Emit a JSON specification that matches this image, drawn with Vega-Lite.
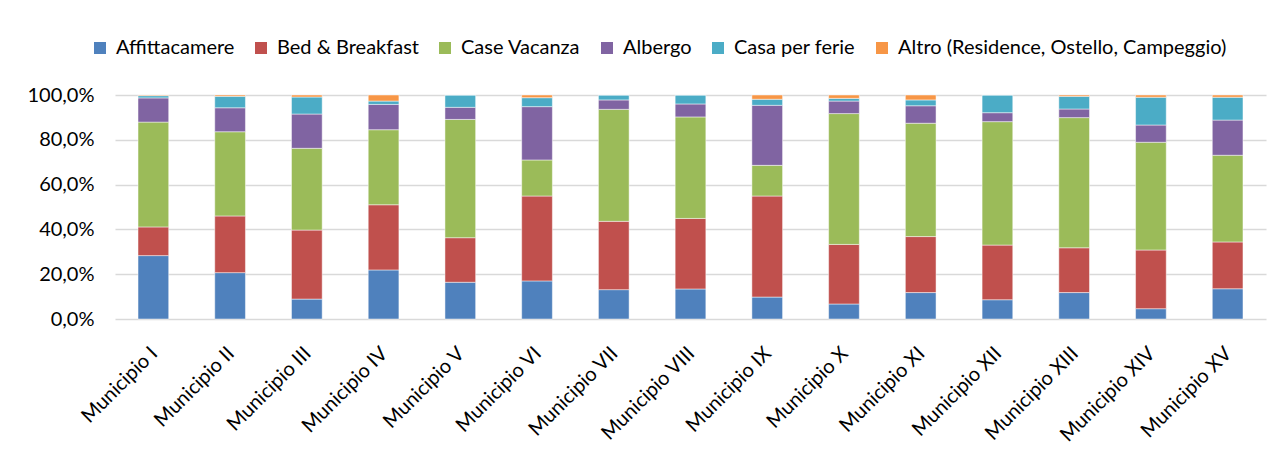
{
  "$schema": "https://vega.github.io/schema/vega-lite/v6.json",
  "width": 1151,
  "height": 224,
  "autosize": {"type": "none"},
  "padding": {"left": 115, "top": 95, "right": 19, "bottom": 133},
  "background": "white",
  "datasets": {
    "categorie": [
      {"t": "Affittacamere", "k": 1},
      {"t": "Bed & Breakfast", "k": 2},
      {"t": "Case Vacanza", "k": 3},
      {"t": "Albergo", "k": 4},
      {"t": "Casa per ferie", "k": 5},
      {"t": "Altro (Residence, Ostello, Campeggio)", "k": 6}
    ],
    "quote": [
      {"m": "Municipio I", "t": "Affittacamere", "v": 28.3},
      {"m": "Municipio I", "t": "Bed & Breakfast", "v": 12.8},
      {"m": "Municipio I", "t": "Case Vacanza", "v": 46.8},
      {"m": "Municipio I", "t": "Albergo", "v": 10.8},
      {"m": "Municipio I", "t": "Casa per ferie", "v": 1.0},
      {"m": "Municipio I", "t": "Altro (Residence, Ostello, Campeggio)", "v": 0.3},
      {"m": "Municipio II", "t": "Affittacamere", "v": 20.7},
      {"m": "Municipio II", "t": "Bed & Breakfast", "v": 25.3},
      {"m": "Municipio II", "t": "Case Vacanza", "v": 37.6},
      {"m": "Municipio II", "t": "Albergo", "v": 10.7},
      {"m": "Municipio II", "t": "Casa per ferie", "v": 5.1},
      {"m": "Municipio II", "t": "Altro (Residence, Ostello, Campeggio)", "v": 0.6},
      {"m": "Municipio III", "t": "Affittacamere", "v": 8.9},
      {"m": "Municipio III", "t": "Bed & Breakfast", "v": 30.8},
      {"m": "Municipio III", "t": "Case Vacanza", "v": 36.5},
      {"m": "Municipio III", "t": "Albergo", "v": 15.3},
      {"m": "Municipio III", "t": "Casa per ferie", "v": 7.6},
      {"m": "Municipio III", "t": "Altro (Residence, Ostello, Campeggio)", "v": 0.9},
      {"m": "Municipio IV", "t": "Affittacamere", "v": 21.9},
      {"m": "Municipio IV", "t": "Bed & Breakfast", "v": 29.1},
      {"m": "Municipio IV", "t": "Case Vacanza", "v": 33.5},
      {"m": "Municipio IV", "t": "Albergo", "v": 11.3},
      {"m": "Municipio IV", "t": "Casa per ferie", "v": 1.5},
      {"m": "Municipio IV", "t": "Altro (Residence, Ostello, Campeggio)", "v": 2.7},
      {"m": "Municipio V", "t": "Affittacamere", "v": 16.4},
      {"m": "Municipio V", "t": "Bed & Breakfast", "v": 19.9},
      {"m": "Municipio V", "t": "Case Vacanza", "v": 52.8},
      {"m": "Municipio V", "t": "Albergo", "v": 5.4},
      {"m": "Municipio V", "t": "Casa per ferie", "v": 5.5},
      {"m": "Municipio V", "t": "Altro (Residence, Ostello, Campeggio)", "v": 0.0},
      {"m": "Municipio VI", "t": "Affittacamere", "v": 17.0},
      {"m": "Municipio VI", "t": "Bed & Breakfast", "v": 37.9},
      {"m": "Municipio VI", "t": "Case Vacanza", "v": 16.1},
      {"m": "Municipio VI", "t": "Albergo", "v": 23.8},
      {"m": "Municipio VI", "t": "Casa per ferie", "v": 4.0},
      {"m": "Municipio VI", "t": "Altro (Residence, Ostello, Campeggio)", "v": 1.2},
      {"m": "Municipio VII", "t": "Affittacamere", "v": 13.1},
      {"m": "Municipio VII", "t": "Bed & Breakfast", "v": 30.5},
      {"m": "Municipio VII", "t": "Case Vacanza", "v": 50.0},
      {"m": "Municipio VII", "t": "Albergo", "v": 4.2},
      {"m": "Municipio VII", "t": "Casa per ferie", "v": 2.2},
      {"m": "Municipio VII", "t": "Altro (Residence, Ostello, Campeggio)", "v": 0.0},
      {"m": "Municipio VIII", "t": "Affittacamere", "v": 13.4},
      {"m": "Municipio VIII", "t": "Bed & Breakfast", "v": 31.5},
      {"m": "Municipio VIII", "t": "Case Vacanza", "v": 45.3},
      {"m": "Municipio VIII", "t": "Albergo", "v": 5.8},
      {"m": "Municipio VIII", "t": "Casa per ferie", "v": 4.0},
      {"m": "Municipio VIII", "t": "Altro (Residence, Ostello, Campeggio)", "v": 0.0},
      {"m": "Municipio IX", "t": "Affittacamere", "v": 9.8},
      {"m": "Municipio IX", "t": "Bed & Breakfast", "v": 45.1},
      {"m": "Municipio IX", "t": "Case Vacanza", "v": 13.7},
      {"m": "Municipio IX", "t": "Albergo", "v": 26.8},
      {"m": "Municipio IX", "t": "Casa per ferie", "v": 2.7},
      {"m": "Municipio IX", "t": "Altro (Residence, Ostello, Campeggio)", "v": 1.9},
      {"m": "Municipio X", "t": "Affittacamere", "v": 6.7},
      {"m": "Municipio X", "t": "Bed & Breakfast", "v": 26.6},
      {"m": "Municipio X", "t": "Case Vacanza", "v": 58.4},
      {"m": "Municipio X", "t": "Albergo", "v": 5.6},
      {"m": "Municipio X", "t": "Casa per ferie", "v": 1.2},
      {"m": "Municipio X", "t": "Altro (Residence, Ostello, Campeggio)", "v": 1.5},
      {"m": "Municipio XI", "t": "Affittacamere", "v": 11.8},
      {"m": "Municipio XI", "t": "Bed & Breakfast", "v": 25.0},
      {"m": "Municipio XI", "t": "Case Vacanza", "v": 50.6},
      {"m": "Municipio XI", "t": "Albergo", "v": 7.8},
      {"m": "Municipio XI", "t": "Casa per ferie", "v": 2.6},
      {"m": "Municipio XI", "t": "Altro (Residence, Ostello, Campeggio)", "v": 2.2},
      {"m": "Municipio XII", "t": "Affittacamere", "v": 8.6},
      {"m": "Municipio XII", "t": "Bed & Breakfast", "v": 24.4},
      {"m": "Municipio XII", "t": "Case Vacanza", "v": 55.1},
      {"m": "Municipio XII", "t": "Albergo", "v": 4.0},
      {"m": "Municipio XII", "t": "Casa per ferie", "v": 7.9},
      {"m": "Municipio XII", "t": "Altro (Residence, Ostello, Campeggio)", "v": 0.0},
      {"m": "Municipio XIII", "t": "Affittacamere", "v": 11.8},
      {"m": "Municipio XIII", "t": "Bed & Breakfast", "v": 20.0},
      {"m": "Municipio XIII", "t": "Case Vacanza", "v": 58.1},
      {"m": "Municipio XIII", "t": "Albergo", "v": 3.85},
      {"m": "Municipio XIII", "t": "Casa per ferie", "v": 5.65},
      {"m": "Municipio XIII", "t": "Altro (Residence, Ostello, Campeggio)", "v": 0.6},
      {"m": "Municipio XIV", "t": "Affittacamere", "v": 4.6},
      {"m": "Municipio XIV", "t": "Bed & Breakfast", "v": 26.2},
      {"m": "Municipio XIV", "t": "Case Vacanza", "v": 48.1},
      {"m": "Municipio XIV", "t": "Albergo", "v": 7.7},
      {"m": "Municipio XIV", "t": "Casa per ferie", "v": 12.4},
      {"m": "Municipio XIV", "t": "Altro (Residence, Ostello, Campeggio)", "v": 1.0},
      {"m": "Municipio XV", "t": "Affittacamere", "v": 13.5},
      {"m": "Municipio XV", "t": "Bed & Breakfast", "v": 20.9},
      {"m": "Municipio XV", "t": "Case Vacanza", "v": 38.7},
      {"m": "Municipio XV", "t": "Albergo", "v": 15.7},
      {"m": "Municipio XV", "t": "Casa per ferie", "v": 10.2},
      {"m": "Municipio XV", "t": "Altro (Residence, Ostello, Campeggio)", "v": 1.0}
    ]
  },
  "data": {"name": "quote"},
  "transform": [
    {"lookup": "t", "from": {"data": {"name": "categorie"}, "key": "t", "fields": ["k"]}}
  ],
  "mark": {"type": "bar", "stroke": "#ffffff", "strokeOpacity": 0.6, "strokeWidth": 0.8},
  "encoding": {
    "x": {
      "field": "m",
      "type": "nominal",
      "sort": null,
      "title": null,
      "scale": {"paddingInner": 0.6, "paddingOuter": 0.3},
      "axis": {
        "labelAngle": -45,
        "labelFont": "Lato",
        "labelFontSize": 20,
        "labelColor": "#000000",
        "labelPadding": 24,
        "labelOffset": -6,
        "labelLimit": 300,
        "ticks": false,
        "domain": false
      }
    },
    "y": {
      "field": "v",
      "type": "quantitative",
      "stack": "normalize",
      "title": null,
      "scale": {"domain": [0, 1]},
      "axis": {
        "values": [0, 0.2, 0.4, 0.6, 0.8, 1],
        "labelExpr": "replace(format(datum.value, '.1%'), '.', ',')",
        "labelFont": "Lato",
        "labelFontSize": 20,
        "labelColor": "#000000",
        "labelPadding": 21,
        "ticks": false,
        "domain": false,
        "grid": true,
        "gridColor": "#d9d9d9",
        "gridWidth": 1.5
      }
    },
    "order": {"field": "k", "type": "quantitative", "sort": "ascending"},
    "color": {
      "field": "t",
      "type": "nominal",
      "title": null,
      "sort": ["Affittacamere", "Bed & Breakfast", "Case Vacanza", "Albergo", "Casa per ferie", "Altro (Residence, Ostello, Campeggio)"],
      "scale": {
        "domain": ["Affittacamere", "Bed & Breakfast", "Case Vacanza", "Albergo", "Casa per ferie", "Altro (Residence, Ostello, Campeggio)"],
        "range": ["#4F81BD", "#C0504D", "#9BBB59", "#8064A2", "#4BACC6", "#F79646"]
      },
      "legend": {
        "orient": "none",
        "direction": "horizontal",
        "legendX": -25,
        "legendY": -57,
        "symbolType": "square",
        "symbolSize": 144,
        "symbolStrokeWidth": 0,
        "labelFont": "Lato",
        "labelFontSize": 20,
        "labelColor": "#000000",
        "labelLimit": 500,
        "labelOffset": 6,
        "columnPadding": 16
      }
    }
  },
  "config": {"view": {"stroke": null}}
}
